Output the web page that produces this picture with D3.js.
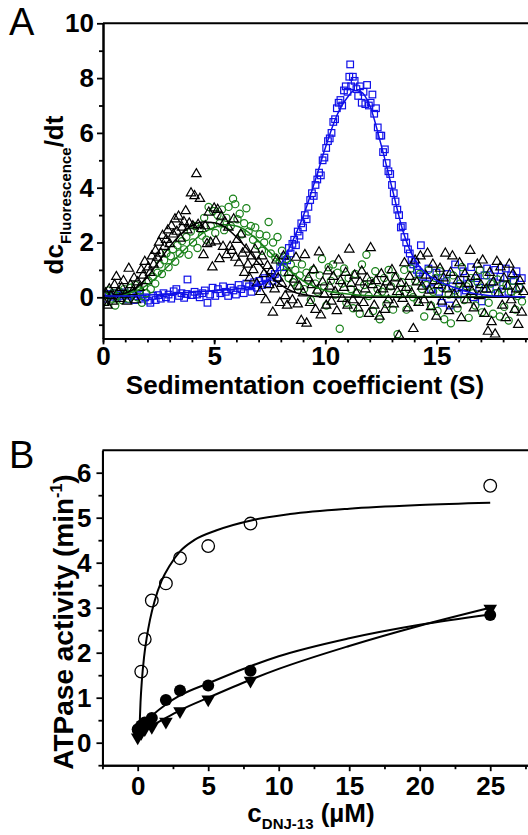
<!DOCTYPE html>
<html>
<head>
<meta charset="utf-8">
<script src="https://cdn.jsdelivr.net/npm/d3@7"></script>
<style>
  body { margin: 0; background: #fff; }
  svg { display: block; }
  text { font-family: "Liberation Sans", Arial, sans-serif; }
</style>
</head>
<body>
<svg id="fig" width="528" height="835"></svg>
<script>
// ---- panel A: dc/dt vs s (S) ----
var squaresA = [[0.05,0.08],[0.15,-0.05],[0.27,0.12],[0.38,0.02],[0.5,0.15],[0.62,-0.02],[0.73,0.1],[0.85,0.05],[0.97,0.18],[1.08,-0.08],[1.2,0.06],[1.32,0.12],[1.43,-0.1],[1.55,0.04],[1.67,0.1],[1.78,-0.05],[1.9,0.0],[2.02,-0.12],[2.13,-0.2],[2.25,0.05],[2.37,-0.1],[2.48,0.08],[2.6,-0.05],[2.72,0.15],[2.83,0.0],[2.95,0.1],[3.07,-0.05],[3.18,0.22],[3.3,0.3],[3.42,0.05],[3.53,0.15],[3.65,-0.02],[3.77,0.12],[3.8,0.65],[4.0,0.08],[4.12,0.2],[4.23,0.1],[4.35,0.0],[4.47,0.15],[4.58,0.25],[4.7,-0.2],[4.82,0.1],[4.93,0.35],[5.05,0.05],[5.17,0.3],[5.28,0.15],[5.4,0.4],[5.52,0.2],[5.63,0.05],[5.75,0.35],[5.87,0.25],[5.98,0.1],[6.1,0.45],[6.22,0.3],[6.33,0.15],[6.45,0.5],[6.57,0.4],[6.68,0.2],[6.8,0.55],[6.92,0.35],[7.03,0.6],[7.15,0.45],[7.27,0.7],[7.38,0.5],[7.5,0.75],[7.62,0.6],[7.73,0.85],[7.85,0.7],[7.97,1.1],
  [8.05,1.3],[8.13,1.1],[8.2,1.5],[8.28,1.35],[8.36,1.8],[8.44,1.6],[8.52,1.95],[8.6,2.1],[8.68,1.9],[8.76,2.4],[8.84,2.25],[8.92,2.7],[9.0,2.55],[9.08,3.0],[9.16,2.85],[9.24,3.3],[9.32,3.55],[9.4,3.8],[9.48,3.7],[9.56,4.1],[9.64,4.3],[9.72,4.55],[9.8,4.45],[9.88,5.0],[9.96,5.1],[10.04,5.45],[10.12,5.7],[10.2,5.8],[10.28,6.0],[10.36,6.4],[10.44,6.5],[10.52,6.9],[10.6,7.1],[10.68,7.2],[10.76,7.0],[10.84,7.55],[10.92,7.7],[11.0,7.5],[11.08,8.05],[11.12,8.5],[11.16,7.7],[11.24,8.05],[11.32,7.9],[11.4,7.6],[11.48,7.35],[11.56,7.7],[11.64,7.1],[11.72,7.5],[11.8,7.05],[11.88,7.75],[11.96,7.0],[12.04,7.1],[12.12,7.4],[12.2,6.7],[12.28,6.9],[12.36,6.2],[12.44,5.9],[12.52,5.9],[12.6,5.3],[12.68,5.4],[12.76,4.9],[12.84,4.6],[12.92,4.5],[13.0,4.1],[13.08,3.8],[13.16,3.5],[13.24,3.2],[13.32,3.0],[13.4,2.55],[13.48,2.6],[13.56,2.2],[13.64,2.0],[13.72,1.75],[13.8,1.6],[13.88,1.35],[13.96,1.2],[14.04,1.3],[14.12,1.0],[14.2,0.9],[14.3,1.9],
  [14.4,0.75],[14.52,0.5],[14.64,1.05],[14.76,0.3],[14.88,0.6],[15.0,0.9],[15.12,0.2],[15.24,-0.2],[15.36,0.55],[15.48,0.85],[15.6,-0.3],[15.72,0.4],[15.84,1.2],[15.96,0.1],[16.08,0.65],[16.2,0.95],[16.32,0.25],[16.44,0.5],[16.56,1.1],[16.68,0.0],[16.8,0.7],[16.92,0.35],[17.04,-0.15],[17.16,0.8],[17.28,1.05],[17.4,0.3],[17.52,0.55],[17.64,1.0],[17.76,0.15],[17.88,0.75],[18.0,0.45],[18.12,1.05],[18.24,0.2],[18.36,0.8],[18.48,0.6],[18.6,0.95],[18.72,0.35],[18.84,0.7]];

var circlesA = [[0.05,0.1],[0.15,-0.15],[0.25,0.25],[0.35,-0.05],[0.45,0.15],[0.55,-0.3],[0.65,0.05],[0.75,0.2],[0.85,-0.1],[0.95,0.3],[1.05,0.1],[1.15,-0.05],[1.25,0.35],[1.35,0.15],[1.45,0.45],[1.55,0.0],[1.65,0.25],[1.75,-0.2],[1.85,0.4],[1.95,0.15],[2.05,0.6],[2.15,0.3],[2.25,0.75],[2.35,0.5],[2.45,0.9],[2.55,1.2],[2.65,0.85],[2.75,1.35],[2.85,1.6],[2.95,1.1],[3.05,1.5],[3.15,1.75],[3.25,1.3],[3.35,1.9],[3.45,1.6],[3.55,2.05],[3.65,1.75],[3.75,2.2],[3.85,1.55],[3.95,2.4],[4.05,2.0],[4.15,2.6],[4.25,1.8],[4.35,2.5],[4.45,2.25],[4.55,2.9],[4.65,2.1],[4.75,3.3],[4.85,2.6],[4.95,3.15],[5.05,2.35],[5.15,3.0],[5.25,2.7],[5.35,3.2],[5.45,2.45],[5.55,2.9],[5.65,3.3],[5.75,2.6],[5.85,3.6],[5.95,3.4],[6.05,2.85],[6.15,3.05],[6.25,2.3],[6.35,2.7],[6.45,3.25],[6.55,2.4],[6.65,2.6],[6.75,2.1],[6.85,2.55],[6.95,1.9],[7.05,2.3],[7.15,1.7],[7.25,2.0],[7.35,2.25],[7.45,2.75],[7.55,1.6],[7.65,2.0],[7.75,1.45],[7.85,2.2],[7.95,1.3],[8.05,1.7],[8.15,0.9],[8.25,1.4],[8.35,0.7],[8.45,1.2],[8.55,0.55],[8.65,1.0],[8.75,0.4],[8.85,0.8],[8.95,1.2],[9.05,0.3],[9.15,0.9],[9.25,0.6],[9.35,-0.1],[9.45,1.0],[9.55,0.5],[9.65,0.2],[9.75,0.8],[9.85,1.4],[9.95,0.4],[10.05,-0.3],[10.15,1.1],[10.25,0.6],[10.35,1.2],[10.45,0.1],[10.55,0.9],[10.65,-1.15],[10.75,0.5],[10.85,1.05],[10.95,-0.2],[11.05,0.7],[11.15,0.3],[11.25,-0.4],[11.35,0.85],[11.45,0.15],[11.55,-0.6],[11.65,1.2],[11.75,0.45],[11.85,1.55],[11.95,0.05],[12.05,0.6],[12.15,-0.5],[12.25,0.95],[12.35,0.3],[12.45,-0.8],[12.55,0.2],[12.65,0.7],[12.75,-0.25],[12.85,1.0],[12.95,0.4],[13.05,-0.45],[13.15,0.75],[13.25,-1.35],[13.35,0.1],[13.45,0.55],[13.55,1.0],[13.65,-0.45],[13.75,0.3],[13.85,1.05],[13.95,0.0],[14.05,0.6],[14.15,-0.15],[14.25,0.85],[14.35,0.3],[14.45,-0.7],[14.55,0.45],[14.65,1.0],[14.75,-0.3],[14.85,0.2],[14.95,0.7],[15.05,-0.5],[15.15,0.95],[15.25,0.35],[15.35,-0.8],[15.45,0.6],[15.55,0.1],[15.65,-0.95],[15.75,0.8],[15.85,0.25],[15.95,-0.4],[16.05,0.5],[16.15,1.1],[16.25,-0.1],[16.35,0.4],[16.45,-0.75],[16.55,0.7],[16.65,0.15],[16.75,-0.3],[16.85,0.55],[16.95,1.0],[17.05,-0.55],[17.15,0.3],[17.25,0.8],[17.35,-0.2],[17.45,0.5],[17.55,-0.6],[17.65,0.15],[17.75,0.65],[17.85,-0.7],[17.95,0.3],[18.05,-0.35],[18.15,0.45],[18.25,-0.85],[18.35,0.2],[18.45,0.6],[18.55,-0.45],[18.65,0.05],[18.75,0.35],[18.85,-0.15]];

var trianglesA = [[0.05,-0.2],[0.12,0.15],[0.2,-0.3],[0.28,0.3],[0.36,0.05],[0.44,-0.15],[0.52,0.45],[0.6,0.75],[0.68,0.2],[0.76,-0.05],[0.84,0.35],[0.92,0.6],[1.0,0.1],[1.08,-0.15],[1.16,1.05],[1.24,0.45],[1.32,0.2],[1.4,0.7],[1.48,-0.1],[1.56,0.55],[1.64,0.35],[1.72,1.0],[1.8,0.8],[1.88,1.3],[1.96,0.6],[2.04,1.1],[2.12,0.9],[2.2,1.5],[2.28,1.2],[2.36,1.7],[2.44,1.45],[2.52,2.0],[2.6,1.6],[2.68,2.25],[2.76,1.85],[2.84,2.1],[2.92,2.45],[3.0,1.95],[3.08,2.6],[3.16,2.3],[3.24,2.85],[3.32,2.4],[3.4,2.95],[3.48,2.15],[3.56,2.55],[3.64,2.75],[3.72,3.15],[3.8,2.45],[3.88,2.7],[3.96,3.8],[4.04,2.6],[4.12,3.7],[4.2,4.5],[4.28,2.65],[4.36,3.6],[4.44,2.5],[4.52,1.55],[4.6,2.6],[4.68,1.95],[4.76,3.1],[4.84,2.0],[4.92,1.1],[5.0,3.25],[5.08,2.05],[5.16,3.2],[5.24,1.4],[5.32,2.95],[5.4,1.85],[5.48,2.75],[5.56,1.55],[5.64,2.55],[5.72,1.85],[5.8,1.7],[5.88,2.85],[5.96,1.45],[6.04,2.1],[6.12,1.25],[6.2,2.3],[6.28,1.6],[6.36,0.9],[6.44,1.75],[6.52,1.2],[6.6,0.7],[6.68,1.5],[6.76,1.0],[6.84,1.75],[6.92,0.5],[7.0,1.3],[7.08,0.2],[7.16,1.5],[7.24,0.85],[7.32,-0.1],[7.4,1.15],[7.48,0.45],[7.56,0.95],[7.64,-0.55],[7.72,0.3],[7.8,1.35],[7.88,0.7],[7.96,-0.2],[8.04,0.5],[8.12,1.5],[8.2,0.05],[8.28,-0.3],[8.36,0.9],[8.44,0.3],[8.52,-0.1],[8.6,0.65],[8.68,1.45],[8.76,-0.25],[8.84,0.4],[8.92,-0.85],[9.0,0.15],[9.08,1.55],[9.16,-0.95],[9.24,0.7],[9.32,-0.2],[9.4,0.45],[9.48,1.0],[9.56,-0.45],[9.64,0.25],[9.72,1.65],[9.8,-0.65],[9.88,0.55],[9.96,0.1],[10.04,-0.3],[10.12,0.95],[10.2,0.4],[10.28,-0.15],[10.36,0.75],[10.44,0.2],[10.52,-0.5],[10.6,1.35],[10.68,0.6],[10.76,-0.05],[10.84,0.35],[10.92,0.9],[11.0,-0.3],[11.08,1.75],[11.16,0.5],[11.24,-0.1],[11.32,0.8],[11.4,0.15],[11.48,-0.4],[11.56,0.55],[11.64,0.95],[11.72,-0.2],[11.8,0.3],[11.88,0.7],[11.96,-0.6],[12.04,1.8],[12.12,0.45],[12.2,-0.3],[12.28,0.6],[12.36,0.1],[12.44,-0.7],[12.52,0.85],[12.6,0.3],[12.68,-0.45],[12.76,0.55],[12.84,-0.1],[12.92,0.4],[13.0,1.0],[13.08,-0.25],[13.16,0.7],[13.24,0.2],[13.32,-1.4],[13.4,0.5],[13.48,-0.05],[13.56,1.25],[13.64,0.35],[13.72,-0.4],[13.8,0.75],[13.88,0.15],[13.96,-1.15],[14.04,1.35],[14.12,0.55],[14.2,-0.2],[14.28,1.5],[14.36,0.4],[14.44,-0.1],[14.52,0.8],[14.6,1.6],[14.68,0.25],[14.76,-0.35],[14.84,1.2],[14.92,0.6],[15.0,-0.7],[15.08,0.45],[15.16,1.05],[15.24,-0.15],[15.32,0.7],[15.4,1.6],[15.48,0.3],[15.56,-0.5],[15.64,0.9],[15.72,1.5],[15.8,0.1],[15.88,-0.25],[15.96,0.6],[16.04,1.25],[16.12,-0.75],[16.2,0.35],[16.28,0.85],[16.36,-0.1],[16.44,0.5],[16.52,1.7],[16.6,0.2],[16.68,-0.4],[16.76,0.75],[16.84,1.2],[16.92,0.05],[17.0,0.45],[17.08,1.35],[17.16,-0.6],[17.24,0.3],[17.32,-1.25],[17.4,0.9],[17.48,-0.9],[17.56,0.55],[17.64,-1.35],[17.72,1.3],[17.8,0.15],[17.88,1.1],[17.96,-0.3],[18.04,0.7],[18.12,-0.75],[18.2,0.4],[18.28,1.2],[18.36,-0.1],[18.44,0.85],[18.52,-0.45],[18.6,0.3],[18.68,-1.0],[18.76,0.6],[18.84,-0.55],[18.92,0.2]];

// fitted curves
var fitBlueA = [[0,0.05],[1,0.05],[2,0.08],[3,0.12],[4,0.18],[5,0.25],[6,0.3],[6.5,0.35],[7,0.42],[7.5,0.65],[8,1.2],[8.5,2.0],[9,2.95],[9.5,4.15],[10,5.45],[10.5,6.6],[11,7.3],[11.3,7.55],[11.6,7.5],[12,7.0],[12.5,5.6],[13,4.0],[13.5,2.4],[14,1.4],[14.5,0.9],[15,0.62],[15.5,0.45],[16,0.3],[16.5,0.18],[17,0.1],[17.5,0.05],[18,0.03],[19,0.02]];
var fitBlackA = [[0,0.0],[0.5,0.05],[1,0.15],[1.5,0.35],[2,0.75],[2.5,1.3],[3,1.85],[3.5,2.3],[4,2.62],[4.5,2.75],[5,2.72],[5.5,2.55],[6,2.2],[6.5,1.75],[7,1.25],[7.5,0.8],[8,0.45],[8.5,0.22],[9,0.1],[9.5,0.04],[10,0.01],[12,0],[19,0]];
var fitGreenA = [[0,0.0],[1,0.1],[2,0.45],[3,1.2],[4,2.0],[4.5,2.35],[5,2.55],[5.5,2.65],[6,2.6],[6.5,2.4],[7,2.05],[7.5,1.65],[8,1.25],[8.5,0.9],[9,0.6],[9.5,0.4],[10,0.25],[11,0.12],[12,0.06],[14,0.03],[19,0.02]];

var xTicksA = [0, 5, 10, 15];
var yTicksA = [0, 2, 4, 6, 8, 10];

// ---- panel B: ATPase activity vs c(DNJ-13) ----
var openB = [[0.25,1.58],[0.5,2.3],[1,3.16],[2,3.54],[3,4.1],[5,4.37],[8,4.87],[25,5.71]];
var filledB = [[0,0.3],[0.25,0.38],[0.5,0.45],[1,0.55],[2,0.95],[3,1.16],[5,1.27],[8,1.6],[25,2.84]];
var downB = [[0,0.12],[0.25,0.22],[0.5,0.3],[1,0.35],[2,0.47],[3,0.7],[5,0.96],[8,1.38],[25,2.98]];
var diamondB = [[0,0.25]];

var fitOpenB = [[0.12,0.25],[0.2,0.9],[0.3,1.4],[0.45,1.9],[0.65,2.35],[0.87,2.73],[1.2,3.15],[1.7,3.6],[2.3,3.95],[3,4.25],[4,4.5],[5.6,4.72],[8.2,4.95],[10.8,5.08],[15,5.2],[20,5.28],[25,5.33]];
var fitFilledB = [[0,0.3],[0.5,0.45],[1,0.6],[2,0.85],[3,1.05],[5,1.32],[8,1.7],[10,1.92],[15,2.32],[20,2.62],[25,2.85]];
var fitDownB = [[0,0.12],[0.5,0.25],[1,0.37],[2,0.55],[3,0.72],[5,1.0],[8,1.4],[10,1.64],[15,2.15],[20,2.6],[25,3.0]];

var xTicksB = [0, 5, 10, 15, 20, 25];
var yTicksB = [0, 1, 2, 3, 4, 5, 6];

var svg = d3.select("#fig");
var blue = "#1010e8", green = "#1a821a";
var font = "bold 26px 'Liberation Sans', Arial, sans-serif";
var intFmt = d3.format("d");

function styleAxis(g, labels) {
  g.select(".domain").attr("stroke", "#000").attr("stroke-width", 2);
  g.selectAll(".tick line").attr("stroke", "#000").attr("stroke-width", 1.8);
  g.selectAll(".tick text")
    .attr("fill", "#000")
    .style("font", font);
  if (!labels) g.selectAll(".tick text").remove();
}

function frame(x, y) {
  var x0 = x.range()[0], x1 = x.range()[1], y0 = y.range()[0], y1 = y.range()[1];
  svg.append("path")
    .attr("d", "M" + x0 + "," + y1 + "H" + x1 + "V" + y0)
    .attr("fill", "none").attr("stroke", "#000").attr("stroke-width", 2);
}

// ===== Panel A =====
var xA = d3.scaleLinear().domain([0, 19.2]).range([103, 529.8]);
var yA = d3.scaleLinear().domain([-1.5, 10]).range([338.4, 23.3]);

svg.append("clipPath").attr("id", "clipA")
  .append("rect").attr("x", 103).attr("y", 23.3).attr("width", 427).attr("height", 315.1);

var gA = svg.append("g").attr("clip-path", "url(#clipA)");

gA.selectAll(".sq").data(squaresA).enter().append("rect")
  .attr("x", function(d) { return xA(d[0]) - 3.3; })
  .attr("y", function(d) { return yA(d[1]) - 3.3; })
  .attr("width", 6.6).attr("height", 6.6)
  .attr("fill", "none").attr("stroke", blue).attr("stroke-width", 1.2);

gA.selectAll(".ci").data(circlesA).enter().append("circle")
  .attr("cx", function(d) { return xA(d[0]); })
  .attr("cy", function(d) { return yA(d[1]); })
  .attr("r", 3.6)
  .attr("fill", "none").attr("stroke", green).attr("stroke-width", 1.2);

var triSmall = d3.symbol().type(d3.symbolTriangle).size(38);
gA.selectAll(".tr").data(trianglesA).enter().append("path")
  .attr("d", triSmall)
  .attr("transform", function(d) { return "translate(" + xA(d[0]) + "," + yA(d[1]) + ")"; })
  .attr("fill", "none").attr("stroke", "#000").attr("stroke-width", 1.2);

var lineA = d3.line().curve(d3.curveMonotoneX)
  .x(function(d) { return xA(d[0]); })
  .y(function(d) { return yA(d[1]); });

gA.append("path").datum(fitGreenA).attr("d", lineA)
  .attr("fill", "none").attr("stroke", green).attr("stroke-width", 1.5);
gA.append("path").datum(fitBlackA).attr("d", lineA)
  .attr("fill", "none").attr("stroke", "#000").attr("stroke-width", 1.5);
gA.append("path").datum(fitBlueA).attr("d", lineA)
  .attr("fill", "none").attr("stroke", blue).attr("stroke-width", 1.5);

frame(xA, yA);

svg.append("g").attr("transform", "translate(0,338.4)")
  .call(d3.axisBottom(xA).tickValues(d3.range(0, 20, 1)).tickSize(4).tickSizeOuter(0))
  .call(styleAxis, false);
svg.append("g").attr("transform", "translate(0,338.4)")
  .call(d3.axisBottom(xA).tickValues(xTicksA).tickFormat(intFmt).tickSize(6).tickSizeOuter(0).tickPadding(2))
  .call(styleAxis, true);
svg.append("g").attr("transform", "translate(103,0)")
  .call(d3.axisLeft(yA).tickValues([-1, 1, 3, 5, 7, 9]).tickSize(4).tickSizeOuter(0))
  .call(styleAxis, false);
svg.append("g").attr("transform", "translate(103,0)")
  .call(d3.axisLeft(yA).tickValues(yTicksA).tickFormat(intFmt).tickSize(6).tickSizeOuter(0).tickPadding(3))
  .call(styleAxis, true);

svg.append("text").attr("x", 9).attr("y", 35)
  .style("font", "38px 'Liberation Sans', Arial, sans-serif").text("A");

svg.append("text").attr("x", 305).attr("y", 394).attr("text-anchor", "middle")
  .style("font", font).text("Sedimentation coefficient (S)");

var ylabA = svg.append("text")
  .attr("transform", "translate(63,195) rotate(-90)")
  .attr("text-anchor", "middle")
  .style("font", font);
ylabA.append("tspan").text("dc");
ylabA.append("tspan").attr("dy", 8).style("font-size", "15px").text("Fluorescence");
ylabA.append("tspan").attr("dy", -8).text("/dt");

// ===== Panel B =====
var xB = d3.scaleLinear().domain([-2.5, 27.8]).range([102.45, 529.7]);
var yB = d3.scaleLinear().domain([-0.5, 6.5]).range([765.2, 450.2]);

var lineB = d3.line().curve(d3.curveMonotoneX)
  .x(function(d) { return xB(d[0]); })
  .y(function(d) { return yB(d[1]); });

[fitOpenB, fitFilledB, fitDownB].forEach(function(f) {
  svg.append("path").datum(f).attr("d", lineB)
    .attr("fill", "none").attr("stroke", "#000").attr("stroke-width", 2);
});

svg.selectAll(".ob").data(openB).enter().append("circle")
  .attr("cx", function(d) { return xB(d[0]); })
  .attr("cy", function(d) { return yB(d[1]); })
  .attr("r", 6.3)
  .attr("fill", "none").attr("stroke", "#000").attr("stroke-width", 1.3);

svg.selectAll(".fb").data(filledB).enter().append("circle")
  .attr("cx", function(d) { return xB(d[0]); })
  .attr("cy", function(d) { return yB(d[1]); })
  .attr("r", 6).attr("fill", "#000");

var triBig = d3.symbol().type(d3.symbolTriangle).size(80);
svg.selectAll(".db").data(downB).enter().append("path")
  .attr("d", triBig)
  .attr("transform", function(d) { return "translate(" + xB(d[0]) + "," + yB(d[1]) + ") rotate(180)"; })
  .attr("fill", "#000");

var dia = d3.symbol().type(d3.symbolDiamond).size(110);
svg.selectAll(".dm").data(diamondB).enter().append("path")
  .attr("d", dia)
  .attr("transform", function(d) { return "translate(" + xB(d[0]) + "," + yB(d[1]) + ")"; })
  .attr("fill", "#000");

frame(xB, yB);

svg.append("g").attr("transform", "translate(0,765.2)")
  .call(d3.axisBottom(xB).tickValues([-2.5, 2.5, 7.5, 12.5, 17.5, 22.5, 27.5]).tickSize(4).tickSizeOuter(0))
  .call(styleAxis, false);
svg.append("g").attr("transform", "translate(0,765.2)")
  .call(d3.axisBottom(xB).tickValues(xTicksB).tickFormat(intFmt).tickSize(6).tickSizeOuter(0).tickPadding(5))
  .call(styleAxis, true);
svg.append("g").attr("transform", "translate(102.45,0)")
  .call(d3.axisLeft(yB).tickValues([-0.5, 0.5, 1.5, 2.5, 3.5, 4.5, 5.5]).tickSize(4).tickSizeOuter(0))
  .call(styleAxis, false);
svg.append("g").attr("transform", "translate(102.45,0)")
  .call(d3.axisLeft(yB).tickValues(yTicksB).tickFormat(intFmt).tickSize(6).tickSizeOuter(0).tickPadding(5))
  .call(styleAxis, true);

svg.append("text").attr("x", 9).attr("y", 468)
  .style("font", "38px 'Liberation Sans', Arial, sans-serif").text("B");

var ylabB = svg.append("text")
  .attr("transform", "translate(73,622) rotate(-90)")
  .attr("text-anchor", "middle")
  .style("font", "bold 28px 'Liberation Sans', Arial, sans-serif");
ylabB.append("tspan").text("ATPase activity (min");
ylabB.append("tspan").attr("dy", -11).style("font-size", "16px").text("-1");
ylabB.append("tspan").attr("dy", 11).text(")");

var xlabB = svg.append("text").attr("x", 311).attr("y", 822)
  .attr("text-anchor", "middle").style("font", font);
xlabB.append("tspan").text("c");
xlabB.append("tspan").attr("dy", 7).style("font-size", "15px").text("DNJ-13");
xlabB.append("tspan").attr("dy", -7).text(" (µM)");
</script>
</body>
</html>
